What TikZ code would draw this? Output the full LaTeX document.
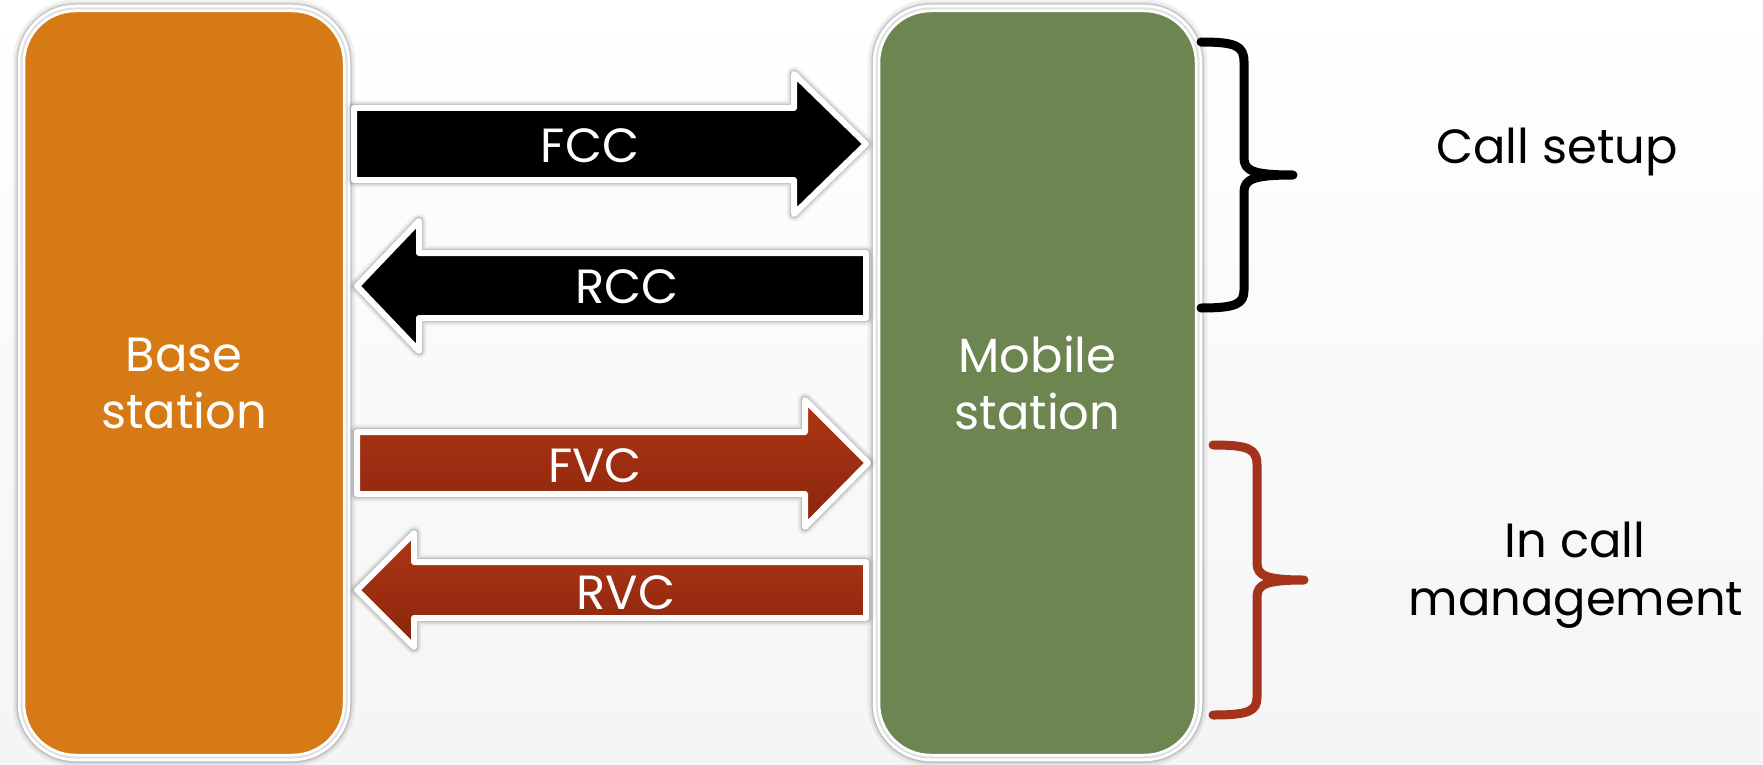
\documentclass[tikz,border=0pt]{standalone}
\usepackage{fontspec}
\setmainfont{Poppins}
\usetikzlibrary{shadows}
\definecolor{orangebox}{HTML}{D67A15}
\definecolor{greenbox}{HTML}{6D8551}
\definecolor{rustfill}{HTML}{A02D0F}
\definecolor{rusttop}{HTML}{B13515}
\definecolor{rustbrace}{HTML}{A5321A}
\begin{document}
\begin{tikzpicture}[x=1pt,y=-1pt,
  stationbox/.style={draw=white, line width=7.5pt, rounded corners=54pt,
    minimum height=749pt, inner sep=0pt, text=white, align=center,
    font=\fontsize{48}{57}\selectfont,
    preaction={draw=black, draw opacity=0.05, line width=18pt},
    preaction={draw=black, draw opacity=0.07, line width=13pt},
    preaction={draw=black, draw opacity=0.12, line width=10pt},
    postaction={draw=black, draw opacity=0.12, line width=2pt, shift={(0pt,-1.5pt)}}},
  blockarrow/.style={draw=white, line width=6pt, line join=round,
    preaction={draw=black, draw opacity=0.05, line width=15pt, line join=round},
    preaction={draw=black, draw opacity=0.08, line width=11pt, line join=round},
    preaction={draw=black, draw opacity=0.12, line width=8pt, line join=round}},
  arrowlabel/.style={text=white, font=\fontsize{48}{57}\selectfont, inner sep=0pt, anchor=base},
  sidelabel/.style={text=black, font=\fontsize{48}{57}\selectfont, inner sep=0pt, anchor=base},
  bracestroke/.style={line width=9pt, line cap=round, line join=round}]
\useasboundingbox (0,0) rectangle (1763,765);
\shade[top color=white, bottom color=black!4] (0,0) rectangle (1763,765);

% stations
\node[stationbox, fill=orangebox, minimum width=325pt] (base) at (184,383) {Base\\station};
\node[stationbox, fill=greenbox, minimum width=322pt] (mobile) at (1037.5,383) {Mobile\\station};

% block arrows
\draw[blockarrow, fill=black] (354,108) -- (794,108) -- (794,74) -- (866,144) -- (794,214) -- (794,180) -- (354,180) -- cycle;
\draw[blockarrow, fill=black] (866,253) -- (419,253) -- (419,221) -- (357,286) -- (419,351) -- (419,318) -- (866,318) -- cycle;
\draw[blockarrow, top color=rusttop, bottom color=rustfill!85!black] (357,432) -- (805,432) -- (805,400) -- (868,463) -- (805,527) -- (805,494) -- (357,494) -- cycle;
\draw[blockarrow, top color=rusttop, bottom color=rustfill!85!black] (866,562) -- (414,562) -- (414,533) -- (357,590) -- (414,647) -- (414,618) -- (866,618) -- cycle;

\node[arrowlabel] (fcc) at (590,162) {FCC};
\node[arrowlabel] (rcc) at (627,303) {RCC};
\node[arrowlabel] (fvc) at (595,482) {FVC};
\node[arrowlabel] (rvc) at (626,609) {RVC};

% braces
\draw[bracestroke, draw=black] (1201,42) .. controls (1236,42) and (1244,46) .. (1244,62)
  -- (1244,158) .. controls (1244,171) and (1254,175) .. (1293,175)
  .. controls (1254,175) and (1244,179) .. (1244,192)
  -- (1244,290) .. controls (1244,304) and (1236,308) .. (1201,308);
\draw[bracestroke, draw=rustbrace] (1213,445) .. controls (1249,445) and (1257,449) .. (1257,465)
  -- (1257,563) .. controls (1257,576) and (1267,580) .. (1304,580)
  .. controls (1267,580) and (1257,584) .. (1257,597)
  -- (1257,697) .. controls (1257,711) and (1249,715) .. (1213,715);

% side labels
\node[sidelabel] (setup) at (1557,163) {Call setup};
\node[sidelabel] (incall) at (1575,557) {In call};
\node[sidelabel] (mgmt) at (1576,615) {management};
\end{tikzpicture}
\end{document}
